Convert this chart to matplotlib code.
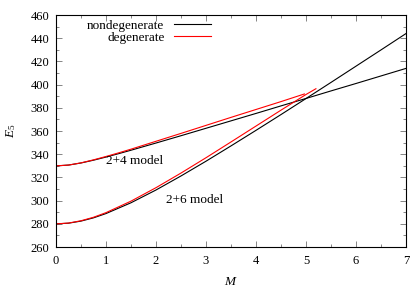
import matplotlib
matplotlib.use("Agg")
import matplotlib.pyplot as plt
from matplotlib.ticker import MultipleLocator

plt.rcParams['font.family'] = ['Liberation Serif', 'DejaVu Serif']
plt.rcParams['mathtext.fontset'] = 'custom'
plt.rcParams['mathtext.rm'] = 'Liberation Serif'
plt.rcParams['mathtext.it'] = 'Liberation Serif:italic'

# 2+4 model
m24_nd = [0, 0.25, 0.5, 0.75, 1, 1.25, 1.5, 2, 2.5, 3, 3.5, 4, 4.5, 5, 5.5, 6, 6.5, 7]
e24_nd = [330, 330.7, 332.5, 334.9, 337.6, 340.5, 343.5, 349.7, 356.0, 362.4, 368.8,
          375.2, 381.7, 388.1, 394.6, 401.0, 407.5, 414.0]
m24_d = [0, 0.25, 0.5, 0.75, 1, 1.25, 1.5, 2, 2.5, 3, 3.5, 4, 4.5, 4.97]
e24_d = [330, 330.7, 332.6, 335.2, 338.1, 341.2, 344.4, 351.2, 358.0, 364.9, 371.8,
         378.6, 385.4, 392.0]

# 2+6 model
m26_nd = [0, 0.25, 0.5, 0.75, 1, 1.5, 2, 2.5, 3, 3.5, 4, 4.5, 5, 5.5, 6, 6.5, 7]
e26_nd = [280, 280.6, 282.4, 285.2, 288.9, 298.2, 309.2, 321.3, 334.0, 347.2, 360.6,
          374.2, 388.0, 401.9, 415.9, 429.9, 444.0]
m26_d = [0, 0.25, 0.5, 0.75, 1, 1.5, 2, 2.5, 3, 3.5, 4, 4.5, 5, 5.2]
e26_d = [280, 280.7, 282.7, 285.7, 289.7, 299.6, 311.2, 323.8, 337.0, 350.6, 364.3,
         378.0, 391.5, 396.5]

fs = 9

fig = plt.figure(figsize=(4.15, 2.9), dpi=100)
ax = fig.add_axes([0.135, 0.148, 0.843, 0.8])

lw = 0.8
ax.plot(m24_nd, e24_nd, color='black', lw=lw, label='nondegenerate')
ax.plot(m24_d, e24_d, color='#ff0000', lw=lw, label='degenerate')
ax.plot(m26_nd, e26_nd, color='black', lw=lw)
ax.plot(m26_d, e26_d, color='#ff0000', lw=lw)

ax.text(1.0, 334.5, '2+4 model', fontsize=9.5, va='center')
ax.text(2.2, 301, '2+6 model', fontsize=9.5, va='center')

ax.set_xlim(0, 7)
ax.set_ylim(260, 460)
ax.xaxis.set_major_locator(MultipleLocator(1))
ax.xaxis.set_minor_locator(MultipleLocator(0.5))
ax.yaxis.set_major_locator(MultipleLocator(20))
ax.yaxis.set_minor_locator(MultipleLocator(10))
ax.tick_params(which='both', direction='in', top=True, right=True, labelsize=fs,
               width=0.5, color='#555555')
ax.tick_params(which='major', length=4)
ax.tick_params(which='minor', length=2)
ax.tick_params(axis='x', pad=6)
ax.tick_params(axis='y', pad=5)
for s in ax.spines.values():
    s.set_linewidth(0.8)

ax.set_xlabel('$M$', fontsize=9.5, labelpad=6)
ax.set_ylabel('$E_5$', fontsize=9.5, labelpad=9)

ax.legend(loc='upper right', bbox_to_anchor=(0.455, 1.0), frameon=False, markerfirst=False,
          fontsize=9.5, handlelength=2.8, labelspacing=-0.05, handletextpad=0.7,
          borderpad=0.15, borderaxespad=0.2)

fig.savefig('out.png', dpi=100)
